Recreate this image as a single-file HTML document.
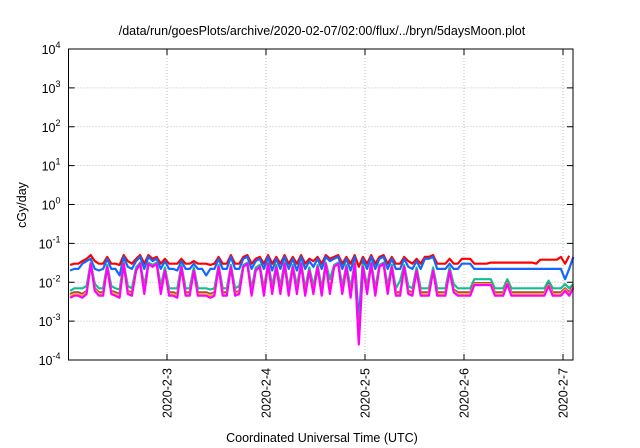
<!DOCTYPE html>
<html><head><meta charset="utf-8"><style>
body{margin:0;background:#fff;}
svg{display:block;font-family:"Liberation Sans",Arial,sans-serif;}
</style></head><body>
<svg id="chart" width="640" height="448" viewBox="0 0 640 448" xmlns="http://www.w3.org/2000/svg">
<text x="322" y="35" font-size="12.5" text-anchor="middle">/data/run/goesPlots/archive/2020-02-07/02:00/flux/../bryn/5daysMoon.plot</text>
<g id="grid"></g>
<g id="series"></g>
<rect x="68.5" y="49" width="504.5" height="311" fill="none" stroke="#000" stroke-width="1"/>
<g id="axes"></g>
<text transform="translate(26,205) rotate(-90)" font-size="12.5" text-anchor="middle">cGy/day</text>
<text x="322" y="442" font-size="12.5" text-anchor="middle">Coordinated Universal Time (UTC)</text>
</svg>
<script>
const xTickLabels = ["2020-2-3","2020-2-4","2020-2-5","2020-2-6","2020-2-7"];
const xTickHours = [24,48,72,96,120];
const yTickExps = [-4,-3,-2,-1,0,1,2,3,4];
const seriesColors = ["#ff0000","#1565ff","#10c090","#a0405a","#ffb020","#ff00ff"];
const seriesNames = ["red","blue","teal","brown","yellow","magenta"];
// hourly samples starting at hour 0.5 of 2020-2-2
const red = [0.028,0.03,0.03,0.035,0.04,0.05,0.035,0.03,0.03,0.045,0.03,0.03,0.028,0.05,0.035,0.03,0.04,0.05,0.03,0.05,0.04,0.045,0.03,0.04,0.03,0.03,0.03,0.04,0.03,0.03,0.035,0.03,0.03,0.03,0.028,0.03,0.045,0.03,0.03,0.05,0.03,0.03,0.045,0.05,0.03,0.04,0.045,0.03,0.05,0.03,0.045,0.03,0.05,0.03,0.045,0.03,0.05,0.03,0.04,0.035,0.045,0.03,0.05,0.04,0.045,0.05,0.03,0.045,0.03,0.05,0.025,0.045,0.03,0.05,0.03,0.045,0.05,0.03,0.045,0.03,0.03,0.045,0.035,0.03,0.04,0.03,0.045,0.045,0.05,0.03,0.03,0.03,0.04,0.03,0.03,0.04,0.04,0.04,0.03,0.03,0.03,0.03,0.032,0.032,0.032,0.032,0.032,0.032,0.032,0.032,0.032,0.032,0.032,0.03,0.038,0.038,0.038,0.038,0.038,0.045,0.03,0.048];
const blue = [0.02,0.022,0.022,0.03,0.035,0.04,0.022,0.02,0.022,0.04,0.022,0.022,0.015,0.045,0.025,0.022,0.035,0.045,0.022,0.045,0.035,0.04,0.022,0.035,0.022,0.022,0.02,0.035,0.022,0.022,0.03,0.022,0.022,0.015,0.022,0.022,0.04,0.022,0.022,0.045,0.022,0.022,0.04,0.045,0.022,0.035,0.04,0.022,0.045,0.02,0.04,0.022,0.045,0.022,0.04,0.02,0.045,0.022,0.035,0.025,0.04,0.022,0.045,0.035,0.04,0.045,0.022,0.04,0.02,0.045,0.001,0.04,0.022,0.045,0.022,0.04,0.045,0.022,0.04,0.022,0.022,0.04,0.025,0.022,0.035,0.022,0.04,0.04,0.045,0.022,0.022,0.022,0.03,0.022,0.022,0.03,0.03,0.03,0.022,0.022,0.022,0.022,0.022,0.022,0.022,0.022,0.022,0.022,0.022,0.022,0.022,0.022,0.022,0.022,0.022,0.022,0.022,0.022,0.022,0.022,0.012,0.022,0.045];
const teal = [0.006,0.007,0.007,0.007,0.008,0.032,0.009,0.007,0.007,0.028,0.008,0.007,0.0065,0.032,0.008,0.007,0.024,0.032,0.008,0.032,0.028,0.032,0.008,0.024,0.007,0.007,0.007,0.028,0.007,0.007,0.024,0.007,0.007,0.007,0.0065,0.007,0.028,0.007,0.007,0.028,0.007,0.008,0.028,0.032,0.007,0.024,0.028,0.007,0.032,0.008,0.028,0.008,0.032,0.007,0.028,0.008,0.032,0.007,0.024,0.008,0.028,0.007,0.032,0.012,0.028,0.032,0.008,0.028,0.007,0.032,0.0005,0.028,0.008,0.032,0.007,0.028,0.032,0.008,0.028,0.007,0.011,0.028,0.008,0.007,0.024,0.007,0.007,0.007,0.024,0.007,0.007,0.007,0.024,0.009,0.007,0.007,0.007,0.007,0.012,0.012,0.012,0.012,0.012,0.007,0.007,0.007,0.012,0.007,0.007,0.007,0.007,0.007,0.007,0.007,0.007,0.007,0.011,0.007,0.007,0.007,0.009,0.007,0.009];
const brown = [0.005,0.0055,0.0055,0.005,0.006,0.03,0.007,0.0055,0.0055,0.025,0.006,0.0055,0.005,0.03,0.006,0.0055,0.02,0.03,0.006,0.03,0.025,0.03,0.006,0.02,0.0055,0.0055,0.005,0.025,0.0055,0.0055,0.02,0.0055,0.0055,0.0055,0.005,0.0055,0.025,0.0055,0.0055,0.025,0.0055,0.006,0.025,0.03,0.0055,0.02,0.025,0.0055,0.03,0.006,0.025,0.006,0.03,0.0055,0.025,0.006,0.03,0.0055,0.02,0.006,0.025,0.0055,0.03,0.006,0.025,0.03,0.006,0.025,0.005,0.03,0.0003,0.025,0.006,0.03,0.0055,0.025,0.03,0.006,0.025,0.0055,0.0055,0.025,0.006,0.0055,0.02,0.0055,0.0055,0.0055,0.02,0.0055,0.0055,0.0055,0.02,0.0065,0.0055,0.0055,0.0055,0.0055,0.0095,0.0095,0.0095,0.0095,0.0095,0.0055,0.0055,0.0055,0.01,0.0055,0.0055,0.0055,0.0055,0.0055,0.0055,0.0055,0.0055,0.0055,0.009,0.0055,0.0055,0.0055,0.007,0.0055,0.008];
const yellow = [0.0045,0.005,0.005,0.0045,0.0055,0.03,0.0065,0.005,0.005,0.025,0.0055,0.005,0.0045,0.03,0.0055,0.005,0.02,0.03,0.0055,0.03,0.025,0.03,0.0055,0.02,0.005,0.005,0.0045,0.025,0.005,0.005,0.02,0.005,0.005,0.005,0.0045,0.005,0.025,0.005,0.005,0.025,0.005,0.0055,0.025,0.03,0.005,0.02,0.025,0.005,0.03,0.0055,0.025,0.0055,0.03,0.005,0.025,0.0055,0.03,0.005,0.02,0.0055,0.025,0.005,0.03,0.0055,0.025,0.03,0.0055,0.025,0.0045,0.03,0.00027,0.025,0.0055,0.03,0.005,0.025,0.03,0.0055,0.025,0.005,0.005,0.025,0.0055,0.005,0.02,0.005,0.005,0.005,0.02,0.005,0.005,0.005,0.02,0.006,0.005,0.005,0.005,0.005,0.009,0.009,0.009,0.009,0.009,0.005,0.005,0.005,0.0095,0.005,0.005,0.005,0.005,0.005,0.005,0.005,0.005,0.005,0.0085,0.005,0.005,0.005,0.0065,0.005,0.0075];
const magenta = [0.004,0.0045,0.0045,0.004,0.005,0.03,0.006,0.0045,0.0045,0.025,0.005,0.0045,0.004,0.03,0.005,0.0045,0.02,0.03,0.005,0.03,0.025,0.03,0.005,0.02,0.0045,0.0045,0.004,0.025,0.0045,0.0045,0.02,0.0045,0.0045,0.0045,0.004,0.0045,0.025,0.0045,0.0045,0.025,0.0045,0.005,0.025,0.03,0.0045,0.02,0.025,0.0045,0.03,0.005,0.025,0.005,0.03,0.0045,0.025,0.005,0.03,0.0045,0.02,0.005,0.025,0.0045,0.03,0.005,0.025,0.03,0.005,0.025,0.004,0.03,0.00025,0.025,0.005,0.03,0.0045,0.025,0.03,0.005,0.025,0.0045,0.0045,0.025,0.005,0.0045,0.02,0.0045,0.0045,0.0045,0.02,0.0045,0.0045,0.0045,0.02,0.0055,0.0045,0.0045,0.0045,0.0045,0.0085,0.0085,0.0085,0.0085,0.0085,0.0045,0.0045,0.0045,0.009,0.0045,0.0045,0.0045,0.0045,0.0045,0.0045,0.0045,0.0045,0.0045,0.008,0.0045,0.0045,0.0045,0.006,0.0045,0.007];
const allSeries = [red,blue,teal,brown,yellow,magenta];

const NS="http://www.w3.org/2000/svg";
const L=68.5,R=573,T=49,B=360;
const pxPerHour=99/24;
function xScale(h){return 167+(h-24)*pxPerHour;}
function yScale(v){return T+(4-Math.log10(v))*(B-T)/8;}
function mk(tag,attrs,parent){const e=document.createElementNS(NS,tag);for(const k in attrs)e.setAttribute(k,attrs[k]);parent.appendChild(e);return e;}
const grid=document.getElementById('grid'),axes=document.getElementById('axes'),sg=document.getElementById('series');
yTickExps.forEach(function(ex){
  const y=yScale(Math.pow(10,ex));
  if(ex>-4&&ex<4){
    const g=mk('line',{x1:L,x2:R,y1:y,y2:y,stroke:'#aaa','stroke-width':0.8,'stroke-dasharray':'1,2'},grid);
    
    
  }
  const t1=mk('line',{x1:L,x2:L+6,y1:y,y2:y,stroke:'#000'},axes);
  
  
  const t2=mk('line',{x1:R-6,x2:R,y1:y,y2:y,stroke:'#000'},axes);
  
  
  const tx=mk('text',{x:L-8,y:y+5,'font-size':'12.5','text-anchor':'end'},axes);
  
  
  tx.textContent='10';
  const sp=mk('tspan',{dy:-6,'font-size':'9'},tx);
  sp.textContent=String(ex);
});
xTickHours.forEach(function(h,i){
  const x=xScale(h);
  const g=mk('line',{x1:x,x2:x,y1:T,y2:B,stroke:'#aaa','stroke-width':0.8,'stroke-dasharray':'1,2'},grid);
  
  
  const t1=mk('line',{x1:x,x2:x,y1:B-6,y2:B,stroke:'#000'},axes);
  
  
  const t2=mk('line',{x1:x,x2:x,y1:T,y2:T+6,stroke:'#000'},axes);
  
  
  const tx=mk('text',{transform:'translate('+(x+4.5)+',368) rotate(-90)','font-size':'12.5','text-anchor':'end'},axes);
  
  
  tx.textContent=xTickLabels[i];
});
allSeries.forEach(function(arr,si){
  const pts=arr.map(function(v,i){return xScale(i+0.5).toFixed(1)+','+yScale(v).toFixed(1);}).join(' ');
  const p=mk('polyline',{points:pts,fill:'none',stroke:seriesColors[si],'stroke-width':2.2,'stroke-linejoin':'round'},sg);
  
  
});
</script>
</body></html>
